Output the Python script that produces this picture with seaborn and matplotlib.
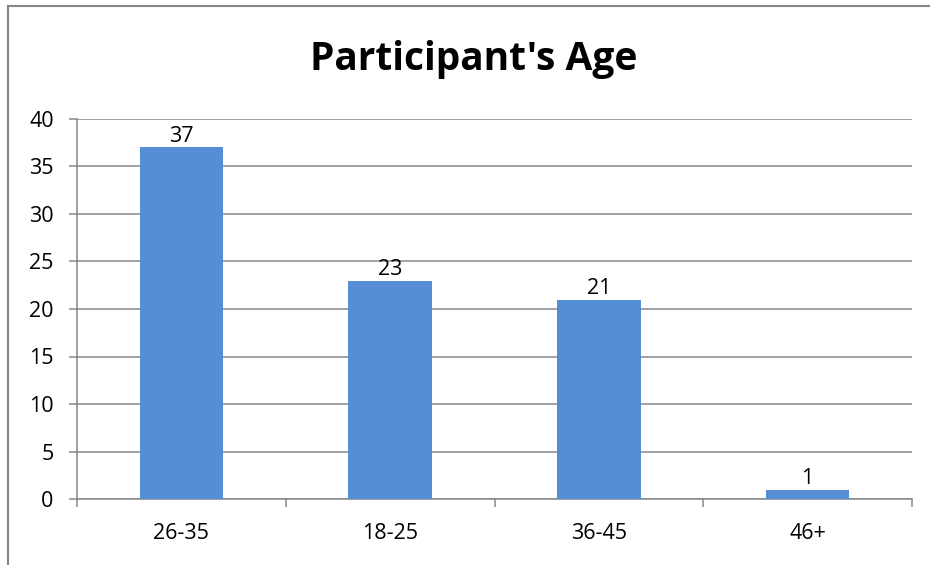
import matplotlib
matplotlib.use("Agg")
import matplotlib.pyplot as plt
import seaborn as sns
import pandas as pd
from matplotlib.patches import Rectangle

categories = ["26-35", "18-25", "36-45", "46+"]
counts = [37, 23, 21, 1]
yticks = [0, 5, 10, 15, 20, 25, 30, 35, 40]
title = "Participant's Age"

sns.set_theme(style="white")
plt.rcParams['font.family'] = ['Open Sans', 'DejaVu Sans']
plt.rcParams['text.color'] = 'black'
plt.rcParams['xtick.color'] = 'black'
plt.rcParams['ytick.color'] = 'black'

df = pd.DataFrame({"age": categories, "count": counts})

fig = plt.figure(figsize=(9.3, 5.65), dpi=100)
ax = fig.add_axes([77/930, 1-499/565, (912-77)/930, (499-119)/565])

grid_c = "#878787"
sns.barplot(data=df, x="age", y="count", color="#558ED5", saturation=1,
            width=0.4, ax=ax, zorder=3, linewidth=0)

ax.set_ylim(0, 40)
ax.set_xlim(-0.5, len(categories) - 0.5)
ax.set_yticks(yticks)
ax.set_yticklabels([str(v) for v in yticks], fontsize=15.5)
ax.yaxis.grid(True, color=grid_c, linewidth=1.1)
ax.set_axisbelow(True)
ax.set_xlabel("")
ax.set_ylabel("")

# x ticks at category boundaries
ax.set_xticks([i - 0.5 for i in range(len(categories) + 1)], minor=False)
ax.set_xticklabels([])
ax.set_xticks(range(len(categories)), minor=True)
ax.set_xticklabels(categories, minor=True, fontsize=15.5)
ax.tick_params(axis="x", which="major", length=5.5, width=1.1, color=grid_c, direction="out", bottom=True)
ax.tick_params(axis="x", which="minor", length=0, pad=17, colors="black")
ax.tick_params(axis="x", which="minor", color=grid_c)
ax.tick_params(axis="y", length=5.8, width=1.1, color=grid_c, left=True, pad=11, labelcolor="black")

for s in ["top", "right"]:
    ax.spines[s].set_visible(False)
for s in ["left", "bottom"]:
    ax.spines[s].set_color(grid_c)
    ax.spines[s].set_linewidth(1.1)

for i, v in enumerate(counts):
    ax.text(i, v + 0.1, str(v), ha="center", va="bottom", fontsize=15.5, color="black")

fig.text(474/930, 1-60/565, title, ha="center", va="center", fontsize=28, fontweight="bold", color="black")

fig.patches.append(Rectangle((7.5/930, -0.1), 1.2, 1.1 - 6.5/565,
                             transform=fig.transFigure, fill=False,
                             edgecolor="#868686", linewidth=1.5))

fig.savefig("out.png", dpi=100)
